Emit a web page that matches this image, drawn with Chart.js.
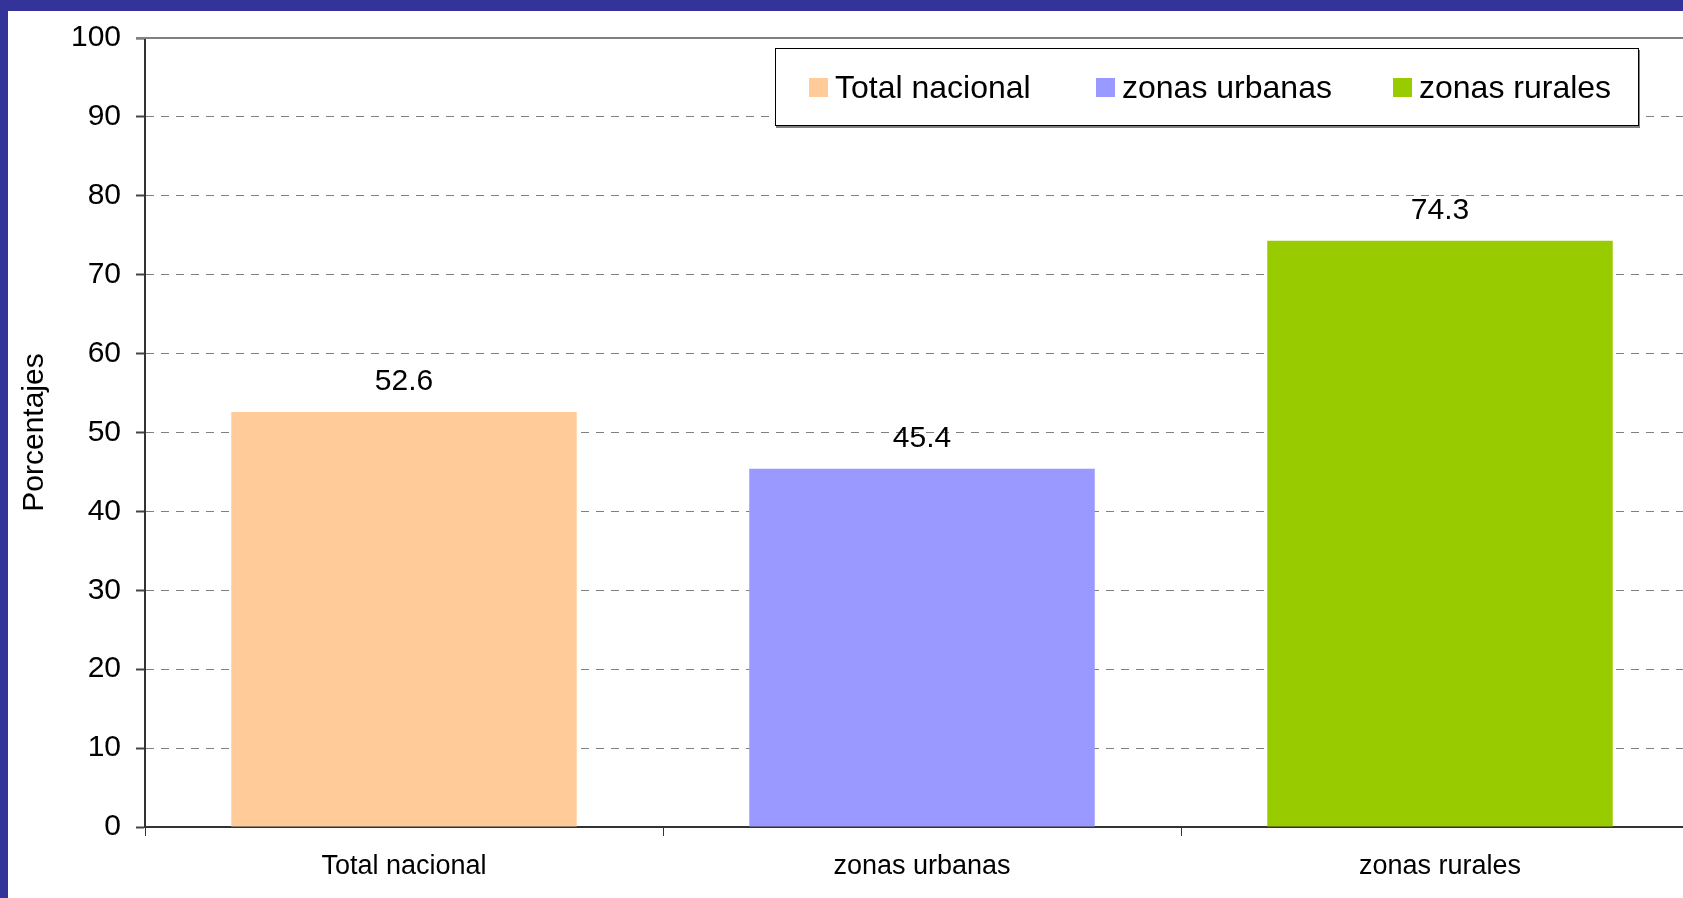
<!DOCTYPE html>
<html>
<head>
<meta charset="utf-8">
<script src="https://cdn.jsdelivr.net/npm/chart.js@4.4.1/dist/chart.umd.min.js"></script>
<style>
  html, body { margin: 0; padding: 0; width: 1683px; height: 898px; overflow: hidden; background: #fff; }
  #wrap { position: relative; width: 1683px; height: 898px; overflow: hidden; }
  #c { position: absolute; left: 0; top: 0; }
  .bl { position: absolute; left: 0; top: 0; width: 8px; height: 898px; background: #333399; z-index: 5; }
  .bt { position: absolute; left: 0; top: 0; width: 1683px; height: 11px; background: #333399; z-index: 5; }
  #legend { position: absolute; left: 775px; top: 48px; width: 862px; height: 76px; background: #fff;
            border: 1px solid #000; box-shadow: 1px 2px 0 #808080; z-index: 4;
            font-family: "Liberation Sans", Arial, sans-serif; font-size: 32px; color: #000; }
  .item { position: absolute; top: 0; height: 76px; display: flex; align-items: center; white-space: nowrap; }
  .sw { width: 19px; height: 19px; margin-right: 7px; }
</style>
</head>
<body>
<div id="wrap">
  <canvas id="c" width="1699" height="898"></canvas>
  <div class="bl"></div>
  <div class="bt"></div>
  <div id="legend"></div>
</div>
<script>
const categories = ["Total nacional", "zonas urbanas", "zonas rurales"];
const values = [52.6, 45.4, 74.3];
const colors = ["#FFCC99", "#9999FF", "#99CC00"];
const yTicks = [0, 10, 20, 30, 40, 50, 60, 70, 80, 90, 100];
const yTitle = "Porcentajes";

const FONT = '"Liberation Sans", Arial, sans-serif';

// legend (HTML, real text)
const legendLefts = [33, 320, 617];
const legend = document.getElementById('legend');
categories.forEach((c, i) => {
  const it = document.createElement('div');
  it.className = 'item';
  it.style.left = legendLefts[i] + 'px';
  const sw = document.createElement('span');
  sw.className = 'sw';
  sw.style.background = colors[i];
  const tx = document.createElement('span');
  tx.textContent = c;
  it.appendChild(sw); it.appendChild(tx);
  legend.appendChild(it);
});

const valueLabels = {
  id: 'valueLabels',
  afterDatasetsDraw(chart) {
    const ctx = chart.ctx;
    const meta = chart.getDatasetMeta(0);
    ctx.save();
    ctx.font = '30px ' + FONT;
    ctx.fillStyle = '#000';
    ctx.textAlign = 'center';
    ctx.textBaseline = 'middle';
    meta.data.forEach((bar, i) => {
      ctx.fillText(values[i].toFixed(1), bar.x, bar.y - 30);
    });
    ctx.restore();
  }
};

const topBorder = {
  id: 'topBorder',
  beforeDatasetsDraw(chart) {
    const a = chart.chartArea, ctx = chart.ctx;
    ctx.save();
    ctx.setLineDash([]);
    ctx.strokeStyle = '#808080';
    ctx.lineWidth = 2;
    ctx.beginPath();
    ctx.moveTo(a.left - 9, a.top);
    ctx.lineTo(a.right, a.top);
    ctx.stroke();
    ctx.restore();
  }
};

new Chart(document.getElementById('c'), {
  type: 'bar',
  data: {
    labels: categories,
    datasets: [{
      data: values,
      backgroundColor: colors,
      borderWidth: 0,
      categoryPercentage: 1.0,
      barPercentage: 0.667
    }]
  },
  options: {
    responsive: false,
    animation: false,
    devicePixelRatio: 1,
    layout: { padding: { left: 15, top: 38, right: 0, bottom: 0 } },
    plugins: { legend: { display: false }, tooltip: { enabled: false } },
    scales: {
      x: {
        afterFit(s) { s.height = 71; },
        grid: { display: true, drawOnChartArea: false, drawTicks: true, tickLength: 9,
                tickColor: '#333', tickWidth: 1, offset: true },
        border: { display: true, color: '#333', width: 2 },
        ticks: { color: '#000', font: { family: FONT, size: 27 }, padding: 14, maxRotation: 0 }
      },
      y: {
        min: 0, max: 100,
        afterFit(s) { s.width = 130; },
        afterBuildTicks(s) { s.ticks = yTicks.map(v => ({ value: v })); },
        grid: { color: '#808080', lineWidth: 1, drawTicks: true, tickLength: 9,
                tickColor: '#444', tickWidth: 2, tickBorderDash: [] },
        border: { display: true, color: '#333', width: 2, dash: [8, 7] },
        ticks: { color: '#000', font: { family: FONT, size: 30 }, padding: 15 },
        title: { display: true, text: yTitle, color: '#000', font: { family: FONT, size: 30, lineHeight: 1.2 },
                 padding: { top: 2, bottom: 0 } }
      }
    }
  },
  plugins: [topBorder, valueLabels]
});
</script>
</body>
</html>
